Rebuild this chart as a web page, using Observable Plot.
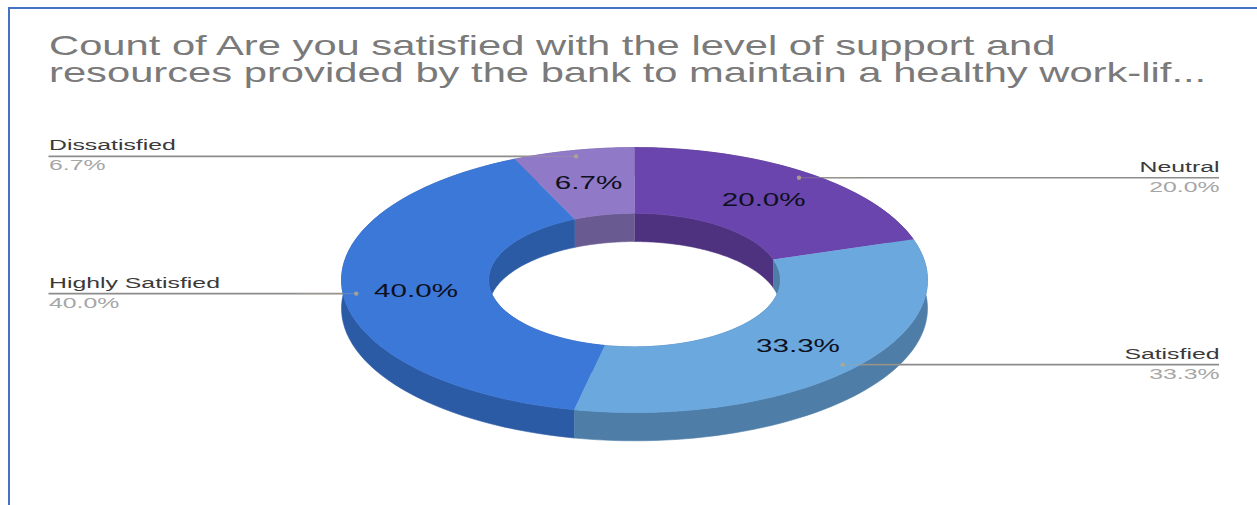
<!DOCTYPE html>
<html>
<head>
<meta charset="utf-8">
<script src="https://cdn.jsdelivr.net/npm/d3@7"></script>
<script src="https://cdn.jsdelivr.net/npm/@observablehq/plot@0.6"></script>
<style>
  html, body { margin: 0; background: #fff; }
  #page { position: relative; width: 1257px; height: 505px; overflow: hidden; font-family: "Liberation Sans", Arial, sans-serif; }
  #frame { position: absolute; left: 8px; top: 7px; right: -4px; bottom: -4px; border: 2px solid #4472c4; }
  #title { position: absolute; left: 49px; top: 32px; margin: 0; font-size: 28px; line-height: 27px; font-weight: 400; color: #7a7a7a; white-space: nowrap; transform-origin: 0 0; transform: scaleX(1.49); }
  #title span { display: block; }
  #chart { position: absolute; left: 0; top: 0; }
</style>
</head>
<body>
<div id="page">
  <div id="chart"></div>
  <div id="frame"></div>
  <h2 id="title"><span>Count of Are you satisfied with the level of support and</span><span>resources provided by the bank to maintain a healthy work-lif...</span></h2>
</div>
<script>
// Survey responses, clockwise from twelve o'clock.
const categories = ["Neutral", "Satisfied", "Highly Satisfied", "Dissatisfied"];
const shares = [20.0, 33.3, 40.0, 6.7];
const faceColors = ["#6a45ad", "#6ba8de", "#3c78d8", "#9079c6"];
const sideColors = ["#4e3280", "#4e7da8", "#2c5ba6", "#6a5a92"];
const labelSides = ["right", "right", "left", "left"];

// The donut lives in a unit coordinate system; the unequal x and y scales tilt it.
const width = 1257, height = 505;
const centre = {x: 634, y: 279.6}, radius = {x: 293, y: 132.5};
const hole = {x: 0.498, y: 0.504};
const thickness = 0.213;
const anchorRadius = 0.955, valueRadius = 0.75;
const leftEdge = (48.5 - centre.x) / radius.x, rightEdge = (1219 - centre.x) / radius.x;
const textStretch = 1.6;

const slices = d3.pie().sort(null)(shares).map((s, i) => ({
  name: categories[i],
  share: s.value,
  start: s.startAngle,
  end: s.endAngle,
  mid: (s.startAngle + s.endAngle) / 2,
  face: faceColors[i],
  side: sideColors[i],
  labelSide: labelSides[i]
}));

const arc = (s, rx, ry, drop = 0) => d3.range(0, 1.0001, 1 / 60).map(f => {
  const a = s.start + (s.end - s.start) * f;
  return {x: Math.sin(a) * rx, y: -Math.cos(a) * ry + drop};
});
const outline = (id, color, points) => points.map(p => ({...p, id, color}));

const faces = slices.flatMap(s => outline(s.name, s.face,
  [...arc(s, 1, 1), ...arc(s, hole.x, hole.y).reverse()]));
const outerWalls = slices.flatMap(s => outline(s.name, s.side,
  [...arc(s, 1, 1), ...arc(s, 1, 1, thickness).reverse()]));
const innerWalls = slices.flatMap(s => outline(s.name, s.side,
  [...arc(s, hole.x, hole.y), ...arc(s, hole.x, hole.y, thickness).reverse()]));

const polygons = rows => Plot.line(rows, {x: "x", y: "y", z: "id", fill: "color", stroke: "color", strokeWidth: 0.6});

const labelled = slices.map(s => ({
  ...s,
  ax: Math.sin(s.mid) * anchorRadius,
  ay: -Math.cos(s.mid) * anchorRadius,
  vx: Math.sin(s.mid) * valueRadius,
  vy: -Math.cos(s.mid) * valueRadius,
  edge: s.labelSide === "left" ? leftEdge : rightEdge,
  percent: d3.format(".1f")(s.share) + "%"
}));

// Name above the leader and share below it, flush with the leader's outer end.
const sideLabels = (side, textAnchor) => {
  const rows = labelled.filter(d => d.labelSide === side);
  return [
    Plot.text(rows, {x: "edge", y: "ay", text: "name", textAnchor, dy: -6, lineAnchor: "bottom", fontSize: 15.5, fill: "#3a3a3a"}),
    Plot.text(rows, {x: "edge", y: "ay", text: "percent", textAnchor, dy: 3, lineAnchor: "top", fontSize: 15.5, fill: "#a6a6a6"})
  ];
};

const plot = Plot.plot({
  width, height,
  margin: 0,
  x: {domain: [-centre.x / radius.x, (width - centre.x) / radius.x], range: [0, width], axis: null},
  y: {domain: [-centre.y / radius.y, (height - centre.y) / radius.y], range: [0, height], axis: null},
  color: {type: "identity"},
  style: {fontFamily: "'Liberation Sans', Arial, sans-serif", background: "transparent"},
  marks: [
    polygons(outerWalls),
    polygons(innerWalls),
    Plot.ruleY(labelled, {y: "ay", x1: "ax", x2: "edge", stroke: "#8c8c8c", strokeWidth: 1.6}),
    polygons(faces),
    Plot.ruleY(labelled, {y: "ay", x1: "ax", x2: d => d.ax + Math.sign(d.edge - d.ax) * 0.2, stroke: "#b3a988", strokeWidth: 1, strokeOpacity: 0.35}),
    Plot.dot(labelled, {x: "ax", y: "ay", r: 2.2, fill: "#b3a988", fillOpacity: 0.85}),
    sideLabels("left", "start"),
    sideLabels("right", "end"),
    Plot.text(labelled, {x: "vx", y: "vy", text: "percent", fontSize: 18.5, fill: "#0e1020"})
  ]
});

document.getElementById("chart").append(plot);

// Chart text is set in a widened face, so every label is stretched along its baseline.
plot.querySelectorAll("text").forEach(t => {
  t.setAttribute("textLength", t.getComputedTextLength() * textStretch);
  t.setAttribute("lengthAdjust", "spacingAndGlyphs");
});
</script>
</body>
</html>
